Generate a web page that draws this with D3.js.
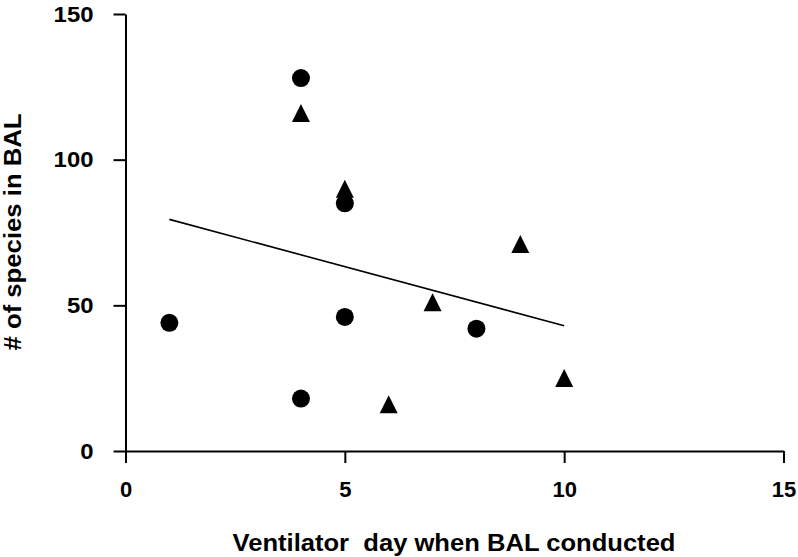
<!DOCTYPE html>
<html lang="en">
<head>
    <meta charset="UTF-8">
    <title>Species in BAL vs ventilator day</title>
    <script src="https://cdnjs.cloudflare.com/ajax/libs/d3/7.8.5/d3.min.js"></script>
    <style>
        body { margin: 0; background: #fff; font-family: "Liberation Sans", Arial, sans-serif; }
        svg { display: block; }
        .axis text { font-family: "Liberation Sans", Arial, sans-serif; font-weight: bold; font-size: 22px; fill: #000; }
        .axis path, .axis line { stroke: #000; stroke-width: 2px; }
        .title { font-weight: bold; font-size: 24px; fill: #000; }
    </style>
</head>
<body>
    <svg id="chart" width="798" height="557"></svg>
    <script>
        // circles and triangles: ventilator day vs # of species
        const circleDays = [1, 4, 4, 5, 5, 8];
        const circleSpecies = [44, 128, 18, 85, 46, 42];
        const triangleDays = [4, 5, 6, 7, 9, 10];
        const triangleSpecies = [115, 89, 15, 50, 70, 24];
        // fitted line end points
        const fitDays = [1, 10];
        const fitSpecies = [79.5, 43];
        const xTicks = [0, 5, 10, 15];
        const yTicks = [0, 50, 100, 150];

        const svg = d3.select("#chart");
        const x = d3.scaleLinear().domain([0, 15]).range([125.5, 783.5]);
        const y = d3.scaleLinear().domain([0, 150]).range([451, 14]);

        svg.append("g")
            .attr("class", "axis")
            .attr("transform", `translate(0,${y(0)})`)
            .call(d3.axisBottom(x).tickValues(xTicks).tickSize(12).tickSizeOuter(0).tickPadding(18))
            .selectAll("text").attr("dy", "0.71em");

        svg.append("g")
            .attr("class", "axis")
            .attr("transform", `translate(${x(0)},0)`)
            .call(d3.axisLeft(y).tickValues(yTicks).tickSize(12).tickSizeOuter(0).tickPadding(20))
            .selectAll("text")
            .attr("textLength", d => String(d).length * 13.3)
            .attr("lengthAdjust", "spacingAndGlyphs");

        // regression line
        svg.append("path")
            .datum(fitDays.map((d, i) => [d, fitSpecies[i]]))
            .attr("fill", "none")
            .attr("stroke", "#000")
            .attr("stroke-width", 1.6)
            .attr("d", d3.line().x(d => x(d[0])).y(d => y(d[1])));

        // triangle with equal width and height
        const triangle = {
            draw(context, size) {
                const h = Math.sqrt(size);
                context.moveTo(0, -h * 2 / 3);
                context.lineTo(h / 2, h / 3);
                context.lineTo(-h / 2, h / 3);
                context.closePath();
            }
        };

        svg.selectAll("path.tri")
            .data(triangleDays.map((d, i) => [d, triangleSpecies[i]]))
            .enter()
            .append("path")
            .attr("class", "tri")
            .attr("transform", d => `translate(${x(d[0])},${y(d[1])})`)
            .attr("d", d3.symbol().type(triangle).size(18 * 18))
            .attr("fill", "#000");

        svg.selectAll("circle.pt")
            .data(circleDays.map((d, i) => [d, circleSpecies[i]]))
            .enter()
            .append("circle")
            .attr("class", "pt")
            .attr("cx", d => x(d[0]))
            .attr("cy", d => y(d[1]))
            .attr("r", 9)
            .attr("fill", "#000");

        svg.append("text")
            .attr("class", "title")
            .attr("x", 454)
            .attr("y", 551)
            .attr("text-anchor", "middle")
            .attr("textLength", 443)
            .attr("lengthAdjust", "spacingAndGlyphs")
            .style("white-space", "pre")
            .text("Ventilator  day when BAL conducted");

        svg.append("text")
            .attr("class", "title")
            .attr("transform", "translate(21,232) rotate(-90)")
            .attr("text-anchor", "middle")
            .attr("textLength", 237)
            .attr("lengthAdjust", "spacingAndGlyphs")
            .text("# of species in BAL");
    </script>
</body>
</html>
